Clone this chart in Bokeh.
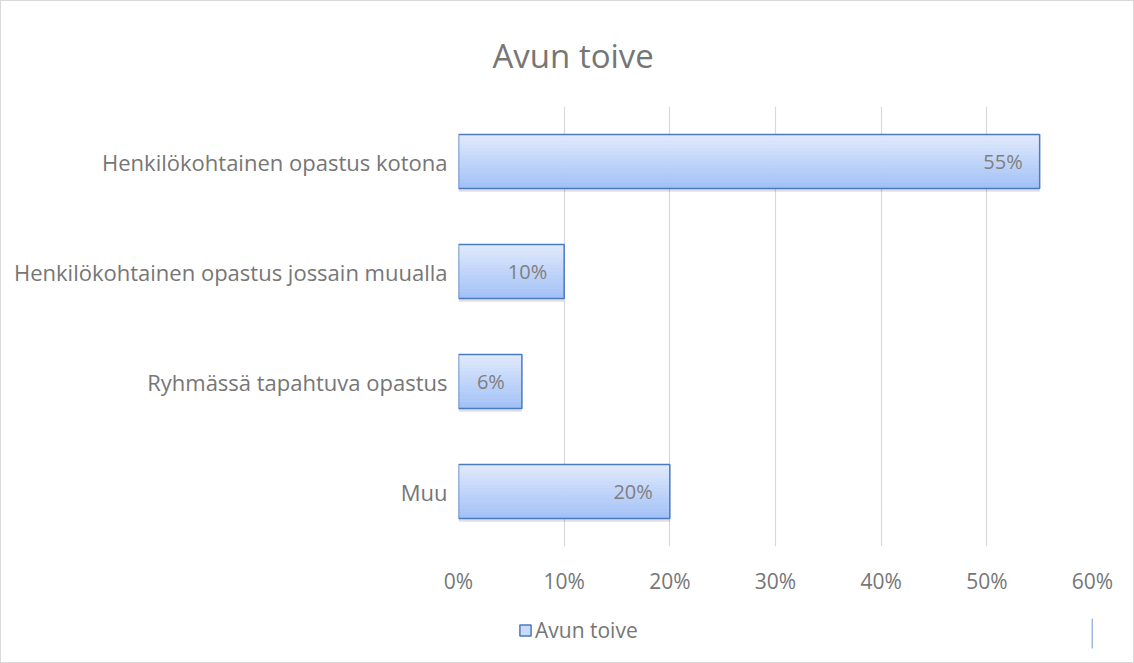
from bokeh.plotting import figure
from bokeh.layouts import column
from bokeh.models import FactorRange, Legend, LegendItem, FixedTicker, CustomJSTickFormatter
from bokeh.transform import dodge
from bokeh.core.properties import value
from bokeh.embed import file_html
from bokeh.resources import INLINE

categories = ["Henkilökohtainen opastus kotona",
              "Henkilökohtainen opastus jossain muualla",
              "Ryhmässä tapahtuva opastus",
              "Muu"]
values = [55, 10, 6, 20]
labels = ["55%", "10%", "6%", "20%"]
series_name = "Avun toive"
title_text = "Avun toive"
x_ticks = [0, 10, 20, 30, 40, 50, 60]

FONT = "Open Sans"
TXT = "#767676"

W, H1, H2 = 1132, 603, 58
p = figure(width=W, height=H1, output_backend="svg", toolbar_location=None,
           y_range=FactorRange(*reversed(categories)), x_range=(0, 60),
           min_border_left=457, min_border_right=41, min_border_top=104, min_border_bottom=58,
           title=title_text)
p.outline_line_color = None
p.background_fill_color = "white"

p.title.align = "left"
p.title.offset = 34
p.title.text_font = FONT
p.title.text_font_size = "33px"
p.title.text_font_style = "normal"
p.title.text_color = TXT
p.title.standoff = 58

src = dict(cat=categories, val=values, lab=labels)

bh = 0.49
p.hbar(y=dodge("cat", -0.03, range=p.y_range), right="val", left=0, height=bh, source=src,
       fill_color="#000000", fill_alpha=0.12, line_color=None)

def lerp(c1, c2, t):
    a = [int(c1[i:i+2], 16) for i in (1, 3, 5)]
    b = [int(c2[i:i+2], 16) for i in (1, 3, 5)]
    return "#%02x%02x%02x" % tuple(round(a[k] + (b[k] - a[k]) * t) for k in range(3))

N = 16
top_c, bot_c = "#dfe9fc", "#a3c1f7"
for i in range(N):
    off = bh / 2 - (i + 0.5) * bh / N
    col = lerp(top_c, bot_c, i / (N - 1))
    p.hbar(y=dodge("cat", off, range=p.y_range), right="val", left=0, height=bh / N * 1.08,
           source=src, fill_color=col, line_color=None)

p.hbar(y="cat", right="val", left=0, height=bh, source=src,
       fill_alpha=0, line_color="#4a7bc0", line_width=1.5)

p.text(x="val", y="cat", text="lab", source=src, x_offset=-17, text_align="right",
       text_baseline="middle", text_color="#7f7f7f", text_font=value(FONT), text_font_size="20px")

p.xaxis.ticker = FixedTicker(ticks=x_ticks)
p.xaxis.formatter = CustomJSTickFormatter(code="return tick + '%';")
for ax in (p.xaxis[0], p.yaxis[0]):
    ax.axis_line_color = None
    ax.major_tick_line_color = None
    ax.minor_tick_line_color = None
    ax.major_label_text_color = TXT
    ax.major_label_text_font = FONT
    ax.major_label_text_font_size = "21px"
p.yaxis.major_label_text_font_size = "22px"
p.xaxis.major_label_standoff = 14
p.yaxis.major_label_standoff = 5
p.ygrid.grid_line_color = None
p.xgrid.grid_line_color = "#d9d9d9"
p.xgrid.grid_line_width = 1.2

# legend strip
q = figure(width=W, height=H2, output_backend="svg", toolbar_location=None,
           x_range=(0, 1), y_range=(0, 1),
           min_border_left=457, min_border_right=41, min_border_top=0, min_border_bottom=0)
q.axis.visible = False
q.grid.visible = False
q.outline_line_color = None
# swatch renderer: one bar placed outside the visible range, used only for the legend
r_sw = q.hbar(y=[0.5], left=[5], right=[6], height=0.5,
              fill_color="#c9dbfa", line_color="#4a7bc0", line_width=1.5)
legend = Legend(items=[LegendItem(label=series_name, renderers=[r_sw])],
                location=(60, 18), orientation="horizontal",
                background_fill_alpha=0, border_line_color=None,
                label_text_color=TXT, label_text_font=FONT, label_text_font_size="21px",
                glyph_width=14, glyph_height=14, label_standoff=3, padding=0, margin=0)
q.add_layout(legend, "center")

layout = column(p, q, spacing=0)
layout.styles = {"border": "1px solid #d9d9d9"}

open("out.html", "w").write(file_html(layout, INLINE))
